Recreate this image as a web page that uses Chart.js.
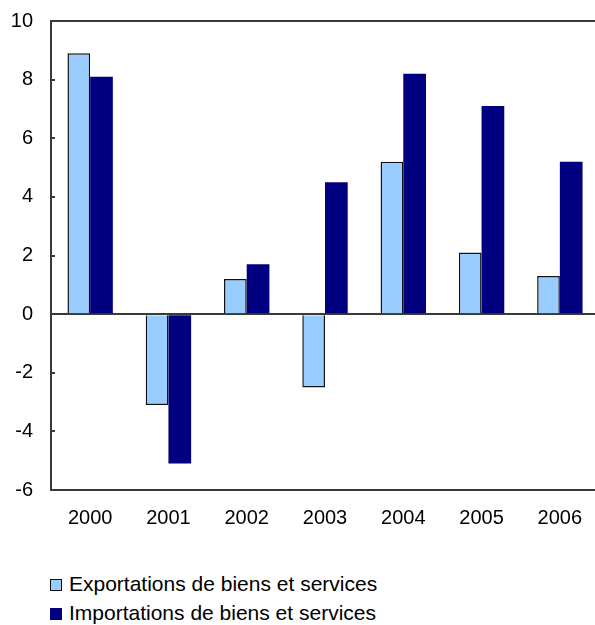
<!DOCTYPE html>
<html>
<head>
<meta charset="utf-8">
<script src="https://cdn.jsdelivr.net/npm/chart.js@4.4.1/dist/chart.umd.min.js"></script>
<style>
  html, body { margin: 0; padding: 0; background: #fff; overflow: hidden; }
  #wrap { position: relative; width: 600px; height: 625px; overflow: hidden; }
  #chartBox { position: absolute; left: 0; top: -9px; width: 600px; height: 554px; }
  #legend { position: absolute; left: 50px; top: 572px; font: 21px "Liberation Sans", Arial, sans-serif; color: #000; }
  #legend div { height: 29px; line-height: 24px; white-space: nowrap; }
  #legend span.box { display: inline-block; width: 10px; height: 10px; margin-right: 7px; vertical-align: 0px; }
</style>
</head>
<body>
<div id="wrap">
  <div id="chartBox"><canvas id="tradeChart"></canvas></div>
  <div id="legend"></div>
</div>
<script>
// annual % change, goods and services
var years = ["2000", "2001", "2002", "2003", "2004", "2005", "2006"];
var exportsPct = [8.9, -3.1, 1.2, -2.5, 5.2, 2.1, 1.3];
var importsPct = [8.1, -5.1, 1.7, 4.5, 8.2, 7.1, 5.2];
var seriesNames = ["Exportations de biens et services", "Importations de biens et services"];
var yTicks = [-6, -4, -2, 0, 2, 4, 6, 8, 10];

var axisColor = "#3a3a3a";
var fontFamily = '"Liberation Sans", Arial, sans-serif';

// top edge of the frame plus short tick marks pointing into the plot
var framePlugin = {
    id: "frame",
    afterDraw: function(chart) {
        var ctx = chart.ctx, area = chart.chartArea, y = chart.scales.y;
        ctx.save();
        ctx.strokeStyle = axisColor;
        ctx.lineWidth = 2;
        ctx.beginPath();
        ctx.moveTo(area.left - 1, area.top);
        ctx.lineTo(area.right, area.top);
        yTicks.forEach(function(v) {
            var py = Math.round(y.getPixelForValue(v));
            ctx.moveTo(area.left, py);
            ctx.lineTo(area.left + 4, py);
        });
        ctx.stroke();
        ctx.restore();
    }
};

new Chart(document.getElementById("tradeChart"), {
    type: "bar",
    data: {
        labels: years,
        datasets: [
            {
                label: seriesNames[0],
                data: exportsPct,
                backgroundColor: "#99ccff",
                borderColor: "#111",
                borderWidth: 1.5
            }, {
                label: seriesNames[1],
                data: importsPct,
                backgroundColor: "#000080",
                borderWidth: 0
            }
        ]
    },
    options: {
        responsive: true,
        maintainAspectRatio: false,
        animation: false,
        layout: { padding: { top: 0, right: 1, bottom: 0, left: 0 } },
        plugins: {
            legend: { display: false },
            tooltip: { enabled: false }
        },
        datasets: {
            bar: { categoryPercentage: 0.58, barPercentage: 1.0 }
        },
        scales: {
            x: {
                grid: { display: false, drawTicks: false },
                border: { display: true, color: axisColor, width: 2 },
                ticks: { color: "#000", padding: 16, font: { family: fontFamily, size: 20 } },
                afterFit: function(scale) { scale.height = 55; }
            },
            y: {
                min: -6,
                max: 10,
                afterBuildTicks: function(scale) {
                    scale.ticks = yTicks.map(function(v) { return { value: v }; });
                },
                grid: {
                    drawTicks: false,
                    lineWidth: 2,
                    color: function(c) { return c.tick && c.tick.value === 0 ? axisColor : "rgba(0,0,0,0)"; }
                },
                border: { display: true, color: axisColor, width: 2 },
                ticks: { color: "#000", padding: 18, font: { family: fontFamily, size: 20 } },
                afterFit: function(scale) { scale.width = 51; }
            }
        }
    },
    plugins: [framePlugin]
});

// legend stacked under the plot
var legendColors = [["#99ccff", "1px solid #111"], ["#000080", "1px solid #000080"]];
var legendEl = document.getElementById("legend");
seriesNames.forEach(function(name, i) {
    var row = document.createElement("div");
    var box = document.createElement("span");
    box.className = "box";
    box.style.background = legendColors[i][0];
    box.style.border = legendColors[i][1];
    row.appendChild(box);
    row.appendChild(document.createTextNode(name));
    legendEl.appendChild(row);
});
</script>
</body>
</html>
